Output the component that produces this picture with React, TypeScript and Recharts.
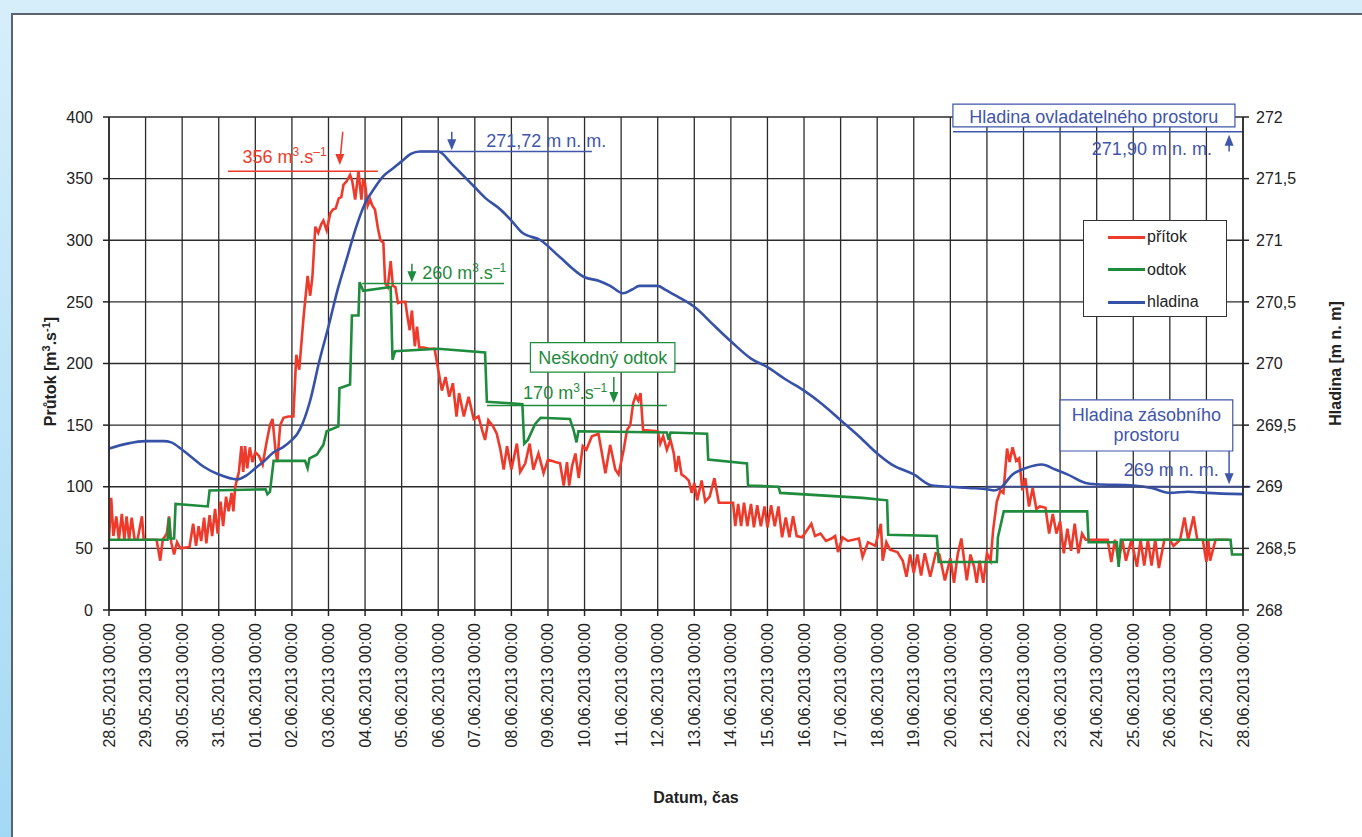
import {
  ComposedChart,
  Line,
  XAxis,
  YAxis,
  CartesianGrid,
  Legend,
  ReferenceLine,
  ReferenceDot,
  ReferenceArea,
  Label,
} from "recharts";

// x = days since 28.05.2013 00:00
const DATES = [
  "28.05.2013 00:00", "29.05.2013 00:00", "30.05.2013 00:00", "31.05.2013 00:00",
  "01.06.2013 00:00", "02.06.2013 00:00", "03.06.2013 00:00", "04.06.2013 00:00",
  "05.06.2013 00:00", "06.06.2013 00:00", "07.06.2013 00:00", "08.06.2013 00:00",
  "09.06.2013 00:00", "10.06.2013 00:00", "11.06.2013 00:00", "12.06.2013 00:00",
  "13.06.2013 00:00", "14.06.2013 00:00", "15.06.2013 00:00", "16.06.2013 00:00",
  "17.06.2013 00:00", "18.06.2013 00:00", "19.06.2013 00:00", "20.06.2013 00:00",
  "21.06.2013 00:00", "22.06.2013 00:00", "23.06.2013 00:00", "24.06.2013 00:00",
  "25.06.2013 00:00", "26.06.2013 00:00", "27.06.2013 00:00", "28.06.2013 00:00",
];

const FLOW_TICKS = [0, 50, 100, 150, 200, 250, 300, 350, 400];
const LEVEL_TICKS = [268, 268.5, 269, 269.5, 270, 270.5, 271, 271.5, 272];
const LEGEND_ORDER = ["přítok", "odtok", "hladina"];

// přítok [m3/s]  (day, value)
const PRITOK: [number, number][] = [
  [0, 57], [0.06, 91], [0.12, 60], [0.2, 76], [0.27, 57], [0.35, 78], [0.42, 57], [0.48, 76],
  [0.55, 57], [0.62, 75], [0.7, 57], [0.78, 57], [0.9, 76], [0.95, 57], [1.3, 57], [1.4, 40],
  [1.47, 57], [1.58, 62], [1.64, 76], [1.7, 55], [1.78, 45], [1.86, 55], [1.95, 50], [2.2, 51],
  [2.3, 70], [2.38, 52], [2.45, 68], [2.52, 56], [2.6, 75], [2.66, 54], [2.75, 77], [2.82, 60],
  [2.9, 82], [2.97, 62], [3.05, 88], [3.12, 68], [3.2, 92], [3.27, 80], [3.35, 95], [3.4, 80],
  [3.45, 100], [3.55, 112], [3.62, 133], [3.67, 112], [3.72, 133], [3.78, 115], [3.85, 132],
  [3.92, 120], [4.0, 128], [4.1, 125], [4.2, 118], [4.3, 135], [4.4, 150], [4.47, 155],
  [4.55, 130], [4.6, 120], [4.68, 150], [4.77, 156], [4.9, 157], [5.04, 157], [5.12, 207],
  [5.2, 195], [5.32, 238], [5.43, 271], [5.5, 255], [5.56, 270], [5.64, 311], [5.72, 306],
  [5.8, 313], [5.86, 316], [5.95, 308], [6.05, 322], [6.12, 325], [6.2, 326], [6.28, 334],
  [6.35, 335], [6.41, 345], [6.5, 348], [6.59, 353], [6.65, 348], [6.73, 333], [6.82, 356],
  [6.9, 333], [6.95, 350], [7.0, 346], [7.07, 328], [7.14, 333], [7.2, 328], [7.27, 325],
  [7.35, 310], [7.42, 300], [7.5, 298], [7.55, 265], [7.62, 262], [7.7, 283], [7.76, 263],
  [7.83, 262], [7.9, 249], [8.0, 250], [8.1, 250], [8.17, 236], [8.22, 227], [8.28, 243],
  [8.36, 214], [8.42, 230], [8.48, 213], [8.6, 213], [8.75, 212], [8.9, 212], [9.0, 195],
  [9.1, 178], [9.2, 189], [9.3, 173], [9.4, 184], [9.5, 157], [9.57, 176], [9.7, 157],
  [9.83, 173], [9.97, 155], [10.1, 157], [10.2, 146], [10.28, 138], [10.37, 154], [10.5, 149],
  [10.6, 143], [10.7, 130], [10.79, 114], [10.88, 133], [11.0, 114], [11.15, 135], [11.24, 112],
  [11.38, 119], [11.5, 135], [11.6, 114], [11.74, 127], [11.88, 111], [12.0, 122], [12.2, 120],
  [12.33, 119], [12.43, 101], [12.52, 120], [12.58, 101], [12.66, 117], [12.75, 127],
  [12.84, 107], [12.95, 133], [13.05, 130], [13.2, 141], [13.38, 143], [13.47, 128],
  [13.57, 111], [13.7, 134], [13.84, 114], [13.93, 110], [14.07, 130], [14.16, 146],
  [14.25, 150], [14.33, 168], [14.4, 174], [14.47, 170], [14.53, 176], [14.6, 146], [15.0, 145],
  [15.07, 135], [15.15, 141], [15.25, 130], [15.35, 138], [15.44, 127], [15.5, 112],
  [15.57, 125], [15.65, 110], [15.75, 108], [15.85, 105], [15.93, 95], [16.0, 103], [16.08, 89],
  [16.2, 105], [16.3, 88], [16.42, 92], [16.55, 107], [16.67, 87], [17.06, 87], [17.12, 68],
  [17.2, 86], [17.28, 68], [17.36, 87], [17.45, 68], [17.55, 86], [17.63, 67], [17.72, 85],
  [17.82, 68], [17.92, 84], [18.0, 67], [18.1, 85], [18.2, 68], [18.3, 84], [18.4, 59],
  [18.5, 75], [18.6, 59], [18.7, 76], [18.8, 60], [18.95, 59], [19.2, 70], [19.3, 60],
  [19.45, 62], [19.6, 56], [19.75, 58], [19.85, 60], [19.93, 47], [20.05, 59], [20.2, 56],
  [20.5, 58], [20.6, 43], [20.75, 55], [20.95, 52], [21.1, 70], [21.15, 40], [21.25, 55],
  [21.35, 49], [21.55, 47], [21.7, 40], [21.8, 27], [21.9, 45], [22.0, 30], [22.1, 45],
  [22.2, 28], [22.3, 46], [22.45, 27], [22.6, 46], [22.7, 45], [22.85, 24], [23.0, 42],
  [23.1, 22], [23.2, 45], [23.3, 58], [23.45, 24], [23.55, 45], [23.65, 35], [23.72, 22],
  [23.8, 40], [23.9, 22], [24.0, 46], [24.1, 40], [24.17, 65], [24.27, 88], [24.37, 97],
  [24.45, 95], [24.55, 131], [24.62, 120], [24.7, 132], [24.8, 121], [24.88, 123], [24.97, 97],
  [25.05, 107], [25.15, 84], [25.25, 99], [25.35, 82], [25.45, 84], [25.6, 83], [25.7, 62],
  [25.8, 78], [25.9, 62], [26.0, 72], [26.1, 46], [26.2, 66], [26.3, 48], [26.4, 70],
  [26.5, 46], [26.6, 62], [26.7, 57], [26.9, 57], [27.3, 57], [27.4, 39], [27.5, 57],
  [27.6, 39], [27.7, 57], [27.8, 40], [27.95, 57], [28.1, 35], [28.2, 57], [28.3, 36],
  [28.4, 57], [28.5, 36], [28.6, 57], [28.7, 34], [28.85, 57], [29.0, 57], [29.1, 52],
  [29.28, 57], [29.4, 75], [29.5, 57], [29.65, 76], [29.75, 57], [29.9, 57], [30.0, 39],
  [30.05, 57], [30.1, 40], [30.25, 57], [30.6, 57],
];

// odtok [m3/s]
const ODTOK: [number, number][] = [
  [0, 57], [1.6, 57], [1.64, 75], [1.68, 58], [1.78, 58], [1.82, 86], [2.7, 84], [2.75, 97],
  [4.28, 98], [4.33, 94], [4.4, 96], [4.5, 121], [5.36, 121], [5.43, 115], [5.48, 123],
  [5.68, 126], [5.86, 134], [5.95, 145], [6.27, 149], [6.3, 180], [6.59, 183], [6.64, 239],
  [6.82, 239], [6.85, 266], [6.95, 259], [7.7, 262], [7.75, 203], [7.82, 210], [9.0, 212],
  [10.28, 209], [10.33, 169], [11.3, 167], [11.35, 135], [11.45, 138], [11.65, 151],
  [11.8, 156], [12.6, 155], [12.7, 146], [12.78, 136], [12.83, 145], [15.25, 144], [15.3, 138],
  [15.35, 144], [16.35, 143], [16.38, 122], [17.44, 119], [17.47, 101], [18.3, 100],
  [18.35, 95], [20.6, 91], [21.27, 89], [21.3, 61], [22.63, 60], [22.68, 39], [24.27, 39],
  [24.3, 59], [24.46, 80], [26.74, 80], [26.78, 55], [27.55, 55], [27.6, 35], [27.66, 57],
  [30.66, 57], [30.7, 45], [31, 45],
];

// hladina [m n. m.]
const HLADINA: [number, number][] = [
  [0, 269.31], [0.5, 269.35], [1, 269.37], [1.5, 269.37], [1.7, 269.36], [2, 269.3],
  [2.3, 269.23], [2.6, 269.16], [3, 269.1], [3.5, 269.06], [3.75, 269.09], [4, 269.15],
  [4.25, 269.21], [4.5, 269.28], [4.75, 269.32], [5, 269.38], [5.15, 269.43], [5.3, 269.52],
  [5.5, 269.7], [5.75, 270.02], [6, 270.3], [6.25, 270.6], [6.5, 270.85], [6.75, 271.1],
  [7, 271.3], [7.25, 271.42], [7.5, 271.52], [7.75, 271.58], [8, 271.64], [8.25, 271.7],
  [8.5, 271.72], [9, 271.72], [9.37, 271.62], [9.7, 271.52], [10, 271.43], [10.3, 271.34],
  [10.7, 271.25], [11, 271.16], [11.3, 271.06], [11.8, 271.0], [12.3, 270.87], [13, 270.7],
  [13.4, 270.67], [13.7, 270.63], [14.05, 270.57], [14.3, 270.6], [14.5, 270.63], [15, 270.63],
  [15.2, 270.6], [15.5, 270.55], [16, 270.46], [16.57, 270.3], [17, 270.18], [17.55, 270.04],
  [18, 269.97], [18.5, 269.87], [19, 269.78], [19.5, 269.67], [20, 269.54], [20.5, 269.41],
  [21, 269.27], [21.4, 269.18], [22, 269.1], [22.5, 269.01], [23, 269.0], [23.5, 268.99],
  [24, 268.98], [24.2, 268.97], [24.37, 268.99], [24.7, 269.1], [25.05, 269.15], [25.5, 269.18],
  [25.87, 269.14], [26.2, 269.1], [26.7, 269.03], [27, 269.02], [28, 269.01], [28.5, 268.99],
  [29, 268.95], [29.5, 268.96], [30, 268.95], [31, 268.94],
];

const RED = "#ee3a2a";
const GREEN = "#1f8b3d";
const BLUE = "#3651a8";
const ANN_BLUE = "#3f56aa";
const FONT = '"Liberation Sans", Arial, sans-serif';

const rows = (pairs: [number, number][]) => pairs.map(([t, v]) => ({ t, v }));

function DateTick({ x, y, payload }: any) {
  return (
    <text
      transform={`translate(${x},${y + 5}) rotate(-90)`}
      textAnchor="end"
      dy={5.5}
      fontSize={16}
      fill="#222"
      fontFamily={FONT}
    >
      {DATES[payload.value]}
    </text>
  );
}

const unit = (num: string) => (
  <>
    {num} m<tspan dy={-7} fontSize={12}>3</tspan>
    <tspan dy={7}>.s</tspan>
    <tspan dy={-7} fontSize={12}>–1</tspan>
  </>
);

const textShape =
  (content: any, color: string, anchor: string, size = 18) =>
  (p: any) =>
    (
      <text x={p.cx} y={p.cy} fill={color} fontSize={size} textAnchor={anchor} fontFamily={FONT}>
        {content}
      </text>
    );

const arrowDown = (color: string) => (p: any) =>
  <polygon points={`${p.cx},${p.cy} ${p.cx - 4.5},${p.cy - 11} ${p.cx + 4.5},${p.cy - 11}`} fill={color} />;

const arrowUp = (color: string) => (p: any) =>
  <polygon points={`${p.cx},${p.cy} ${p.cx - 4.5},${p.cy + 11} ${p.cx + 4.5},${p.cy + 11}`} fill={color} />;

function LegendBox({ payload }: any) {
  const items = [...(payload || [])].sort(
    (a: any, b: any) => LEGEND_ORDER.indexOf(a.value) - LEGEND_ORDER.indexOf(b.value)
  );
  return (
    <div
      style={{
        width: 144,
        height: 97,
        border: "1.5px solid #333",
        background: "#fff",
        boxSizing: "border-box",
        position: "relative",
        fontFamily: FONT,
        fontSize: 16,
        color: "#222",
      }}
    >
      {items.map((item: any, i: number) => (
        <div key={item.value} style={{ position: "absolute", left: 24, top: 5 + i * 32.5, height: 22, display: "flex", alignItems: "center" }}>
          <div style={{ width: 37, height: 3, background: item.color }} />
          <span style={{ marginLeft: 2 }}>{item.value}</span>
        </div>
      ))}
    </div>
  );
}

export default function App() {
  return (
    <div style={{ position: "absolute", left: 0, top: 0, width: 1362, height: 837, overflow: "hidden", background: "#d6eefa" }}>
      <div style={{ position: "absolute", left: 0, top: 0, width: 11, height: 837, background: "linear-gradient(to bottom, #d6eefa, #a4d9f4)" }} />
      <div
        style={{
          position: "absolute",
          left: 11,
          top: 13,
          width: 1400,
          height: 900,
          background: "#fff",
          borderTop: "2px solid #5a646c",
          borderLeft: "2px solid #5a646c",
        }}
      />
      <div style={{ position: "absolute", left: 0, top: 0 }}>
        <ComposedChart width={1362} height={837} margin={{ top: 117, right: 0, bottom: 0, left: 0 }}>
          <CartesianGrid yAxisId="left" stroke="#2b2b2b" strokeWidth={1.3} />
          <XAxis
            dataKey="t"
            type="number"
            domain={[0, 31]}
            ticks={DATES.map((_, i) => i)}
            interval={0}
            height={227}
            tick={<DateTick />}
            tickSize={6}
            stroke="#222"
            strokeWidth={1.5}
            allowDataOverflow
          >
            <Label
              content={(p: any) => (
                <text
                  x={p.viewBox.x + p.viewBox.width / 2 + 20}
                  y={803}
                  textAnchor="middle"
                  fontSize={16}
                  fontWeight="bold"
                  fill="#222"
                  fontFamily={FONT}
                >
                  Datum, čas
                </text>
              )}
            />
          </XAxis>
          <YAxis
            yAxisId="left"
            domain={[0, 400]}
            ticks={FLOW_TICKS}
            width={109}
            tickSize={6}
            tickMargin={10}
            stroke="#222"
            strokeWidth={1.5}
            tick={{ fontSize: 16, fill: "#222", fontFamily: FONT }}
          >
            <Label
              content={(p: any) => {
                const cx = 50;
                const cy = p.viewBox.y + p.viewBox.height / 2 + 8;
                return (
                  <text
                    x={cx}
                    y={cy}
                    transform={`rotate(-90, ${cx}, ${cy})`}
                    textAnchor="middle"
                    dy={6}
                    fontSize={16}
                    fontWeight="bold"
                    fill="#222"
                    fontFamily={FONT}
                  >
                    Průtok [m<tspan dy={-6} fontSize={11}>3</tspan>
                    <tspan dy={6}>.s</tspan>
                    <tspan dy={-6} fontSize={11}>-1</tspan>
                    <tspan dy={6}>]</tspan>
                  </text>
                );
              }}
            />
          </YAxis>
          <YAxis
            yAxisId="right"
            orientation="right"
            domain={[268, 272]}
            ticks={LEVEL_TICKS}
            width={119}
            tickSize={6}
            tickMargin={7}
            stroke="#222"
            strokeWidth={1.5}
            tickFormatter={(v: number) => String(v).replace(".", ",")}
            tick={{ fontSize: 16, fill: "#222", fontFamily: FONT }}
          >
            <Label
              content={(p: any) => {
                const cx = p.viewBox.x + 92;
                const cy = p.viewBox.y + p.viewBox.height / 2;
                return (
                  <text
                    x={cx}
                    y={cy}
                    transform={`rotate(-90, ${cx}, ${cy})`}
                    textAnchor="middle"
                    dy={6}
                    fontSize={16}
                    fontWeight="bold"
                    fill="#222"
                    fontFamily={FONT}
                  >
                    Hladina [m n. m]
                  </text>
                );
              }}
            />
          </YAxis>

          {/* boxes */}
          <ReferenceArea yAxisId="left" x1={11.52} x2={15.47} y1={193} y2={217} fill="#fff" fillOpacity={1} stroke={GREEN} strokeWidth={1.2} ifOverflow="visible" />
          <ReferenceArea yAxisId="right" x1={26.0} x2={30.72} y1={269.29} y2={269.705} fill="#fff" fillOpacity={1} stroke={ANN_BLUE} strokeWidth={1.2} ifOverflow="visible" />
          <ReferenceArea yAxisId="right" x1={23.07} x2={30.78} y1={271.92} y2={272.105} fill="#fff" fillOpacity={1} stroke={ANN_BLUE} strokeWidth={1.2} ifOverflow="visible" />

          <Line data={rows(PRITOK)} dataKey="v" name="přítok" yAxisId="left" type="linear" stroke={RED} strokeWidth={2.6} dot={false} isAnimationActive={false} />
          <Line data={rows(ODTOK)} dataKey="v" name="odtok" yAxisId="left" type="linear" stroke={GREEN} strokeWidth={2.6} dot={false} isAnimationActive={false} />
          <Line data={rows(HLADINA)} dataKey="v" name="hladina" yAxisId="right" type="monotone" stroke={BLUE} strokeWidth={2.6} dot={false} isAnimationActive={false} />

          {/* 356 m3/s */}
          <ReferenceLine yAxisId="left" segment={[{ x: 3.25, y: 356 }, { x: 7.35, y: 356 }]} stroke={RED} strokeWidth={1.5} ifOverflow="visible" />
          <ReferenceLine yAxisId="left" segment={[{ x: 6.39, y: 388 }, { x: 6.32, y: 366 }]} stroke={RED} strokeWidth={1.5} ifOverflow="visible" />
          <ReferenceDot yAxisId="left" x={6.31} y={361} r={0} ifOverflow="visible" shape={arrowDown(RED)} />
          <ReferenceDot yAxisId="left" x={5.95} y={363} r={0} ifOverflow="visible" shape={textShape(unit("356"), RED, "end")} />

          {/* 271,72 */}
          <ReferenceLine yAxisId="right" segment={[{ x: 8.5, y: 271.72 }, { x: 13.2, y: 271.72 }]} stroke={ANN_BLUE} strokeWidth={1.5} ifOverflow="visible" />
          <ReferenceLine yAxisId="right" segment={[{ x: 9.37, y: 271.88 }, { x: 9.37, y: 271.77 }]} stroke={ANN_BLUE} strokeWidth={1.5} ifOverflow="visible" />
          <ReferenceDot yAxisId="right" x={9.37} y={271.73} r={0} ifOverflow="visible" shape={arrowDown(ANN_BLUE)} />
          <ReferenceDot yAxisId="right" x={10.31} y={271.757} r={0} ifOverflow="visible" shape={textShape("271,72 m n. m.", ANN_BLUE, "start")} />

          {/* 260 m3/s */}
          <ReferenceLine yAxisId="left" segment={[{ x: 6.92, y: 265 }, { x: 10.8, y: 265 }]} stroke={GREEN} strokeWidth={1.5} ifOverflow="visible" />
          <ReferenceLine yAxisId="left" segment={[{ x: 8.28, y: 281 }, { x: 8.28, y: 272 }]} stroke={GREEN} strokeWidth={1.5} ifOverflow="visible" />
          <ReferenceDot yAxisId="left" x={8.28} y={266} r={0} ifOverflow="visible" shape={arrowDown(GREEN)} />
          <ReferenceDot yAxisId="left" x={8.56} y={268.6} r={0} ifOverflow="visible" shape={textShape(unit("260"), GREEN, "start")} />

          {/* Neškodný odtok */}
          <ReferenceDot yAxisId="left" x={13.5} y={199.6} r={0} ifOverflow="visible" shape={textShape("Neškodný odtok", GREEN, "middle", 18)} />
          <ReferenceLine yAxisId="left" segment={[{ x: 10.33, y: 166 }, { x: 15.25, y: 166 }]} stroke={GREEN} strokeWidth={1.5} ifOverflow="visible" />
          <ReferenceLine yAxisId="left" segment={[{ x: 13.8, y: 189 }, { x: 13.8, y: 175 }]} stroke={GREEN} strokeWidth={1.5} ifOverflow="visible" />
          <ReferenceDot yAxisId="left" x={13.8} y={168} r={0} ifOverflow="visible" shape={arrowDown(GREEN)} />
          <ReferenceDot yAxisId="left" x={13.62} y={171.2} r={0} ifOverflow="visible" shape={textShape(unit("170"), GREEN, "end")} />

          {/* Hladina ovladatelného prostoru */}
          <ReferenceDot yAxisId="right" x={26.92} y={271.955} r={0} ifOverflow="visible" shape={textShape("Hladina ovladatelného prostoru", ANN_BLUE, "middle", 18)} />
          <ReferenceLine yAxisId="right" segment={[{ x: 23.07, y: 271.88 }, { x: 31, y: 271.88 }]} stroke={ANN_BLUE} strokeWidth={1.5} ifOverflow="visible" />
          <ReferenceLine yAxisId="right" segment={[{ x: 30.62, y: 271.72 }, { x: 30.62, y: 271.82 }]} stroke={ANN_BLUE} strokeWidth={1.5} ifOverflow="visible" />
          <ReferenceDot yAxisId="right" x={30.62} y={271.855} r={0} ifOverflow="visible" shape={arrowUp(ANN_BLUE)} />
          <ReferenceDot yAxisId="right" x={30.15} y={271.69} r={0} ifOverflow="visible" shape={textShape("271,90 m n. m.", ANN_BLUE, "end")} />

          {/* Hladina zásobního prostoru */}
          <ReferenceDot yAxisId="right" x={28.36} y={269.533} r={0} ifOverflow="visible" shape={textShape("Hladina zásobního", ANN_BLUE, "middle", 18)} />
          <ReferenceDot yAxisId="right" x={28.36} y={269.37} r={0} ifOverflow="visible" shape={textShape("prostoru", ANN_BLUE, "middle", 18)} />
          <ReferenceLine yAxisId="right" segment={[{ x: 23.95, y: 269 }, { x: 31.2, y: 269 }]} stroke="#3c4b8a" strokeWidth={2} ifOverflow="visible" />
          <ReferenceLine yAxisId="right" segment={[{ x: 30.62, y: 269.29 }, { x: 30.62, y: 269.1 }]} stroke={ANN_BLUE} strokeWidth={1.5} ifOverflow="visible" />
          <ReferenceDot yAxisId="right" x={30.62} y={269.02} r={0} ifOverflow="visible" shape={arrowDown(ANN_BLUE)} />
          <ReferenceDot yAxisId="right" x={30.34} y={269.087} r={0} ifOverflow="visible" shape={textShape("269 m n. m.", ANN_BLUE, "end")} />

          <Legend
            layout="vertical"
            align="center"
            verticalAlign="middle"
            content={<LegendBox />}
            wrapperStyle={{ left: 1083, top: 220, width: 144, height: 97 }}
          />
        </ComposedChart>
      </div>
    </div>
  );
}
